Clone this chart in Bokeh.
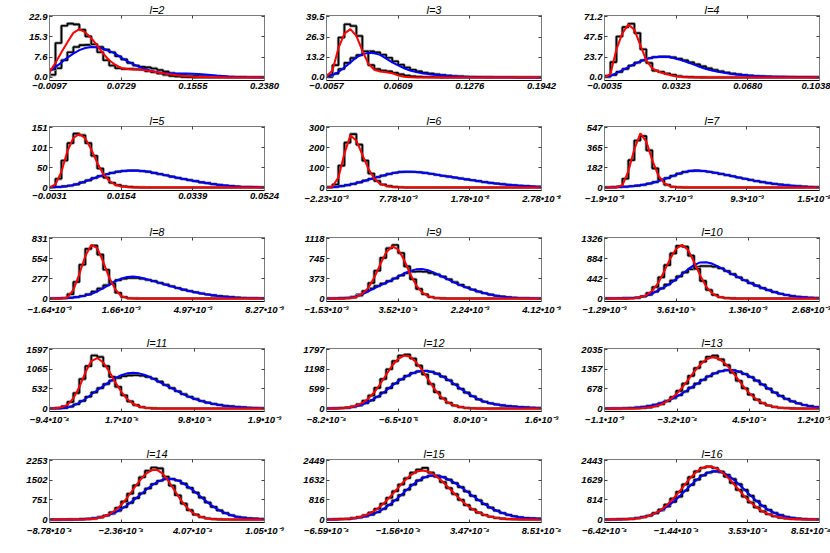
import numpy as np
from bokeh.plotting import figure
from bokeh.layouts import column, row
from bokeh.models import Range1d, FixedTicker, LinearAxis
from bokeh.embed import file_html
from bokeh.resources import INLINE

# ---------------- data ----------------
# each panel: x tick values / labels, y tick values, red curve, blue curve,
# narrow histogram (H1), wide histogram (H2); curves sampled uniformly across the x range,
# histograms have uniform bins across the x range.

XT_2 = [-0.0097, 0.0729, 0.1555, 0.2380]
XL_2 = ["\u22120.0097", "0.0729", "0.1555", "0.2380"]
YT_2 = [0.0, 7.6, 15.3, 22.9]
RED_2 = [2.0, 5.5, 9.5, 13.3, 16.8, 18.2, 17.0, 14.8, 12.0, 9.0, 6.5, 4.8, 3.6, 3.2, 3.0, 2.9, 2.7, 2.35, 2.0, 1.6, 1.25, 0.9, 0.65, 0.45, 0.3, 0.22, 0.16, 0.1, 0.06, 0.04, 0.02, 0, 0, 0, 0, 0, 0]
BLUE_2 = [2.3, 4.0, 5.6, 7.5, 9.0, 10.3, 11.1, 11.45, 11.4, 10.8, 10.0, 9.0, 7.5, 6.2, 5.0, 4.0, 3.2, 2.5, 2.0, 1.7, 1.55, 1.5, 1.5, 1.5, 1.4, 1.3, 1.1, 0.9, 0.7, 0.55, 0.4, 0.3, 0.22, 0.15, 0.12, 0.08, 0.05]
H1_2 = [3, 13, 19.5, 20.3, 20, 18, 15.5, 12.5, 9.5, 6.5, 4.5, 3.5, 3.2, 3.2, 3.1, 3.0, 2.4, 2.0, 1.5, 1.0, 0.6, 0.4, 0.2, 0.1, 0, 0, 0, 0, 0, 0, 0, 0, 0, 0, 0, 0]
H2_2 = [1, 3.5, 6.5, 9.5, 11.5, 12.2, 12.3, 12.2, 11.5, 10.5, 9.5, 8, 6.8, 5.5, 4.5, 4.0, 3.8, 3.4, 2.8, 2.2, 1.6, 1.2, 0.9, 0.7, 0.6, 0.5, 0.4, 0.3, 0.25, 0.2, 0.15, 0.1, 0.1, 0.05, 0, 0]

XT_3 = [-0.0057, 0.0609, 0.1276, 0.1942]
XL_3 = ["\u22120.0057", "0.0609", "0.1276", "0.1942"]
YT_3 = [0.0, 13.2, 26.3, 39.5]
RED_3 = [0.7, 4.5, 19, 28.5, 31.4, 27, 17.5, 9, 5, 3.8, 3.4, 2.8, 1.3, 0.4, 0.15, 0.05, 0, 0, 0, 0, 0, 0, 0, 0, 0, 0, 0, 0, 0, 0, 0, 0, 0, 0, 0, 0, 0]
BLUE_3 = [0.2, 1.5, 3.5, 6.5, 9.8, 13, 15, 16, 15.8, 14.7, 12.2, 9.8, 7.8, 6, 4.5, 3.5, 2.8, 2.2, 1.8, 1.4, 1.1, 0.85, 0.65, 0.5, 0.35, 0.28, 0.22, 0.17, 0.13, 0.1, 0.08, 0.06, 0.05, 0.04, 0.03, 0.02, 0.02]
H1_3 = [1.5, 8, 26, 34.6, 33.5, 27, 17, 8, 5.5, 4.5, 4, 3, 2, 1.2, 0.8, 0.5, 0.3, 0.2, 0.1, 0.05, 0, 0, 0, 0, 0, 0, 0, 0, 0, 0, 0, 0, 0, 0, 0, 0]
H2_3 = [0.3, 2.5, 5.5, 9.5, 12.7, 14.5, 16.5, 17, 16.3, 14.8, 12.8, 10.5, 8.3, 6.5, 5, 4, 3.1, 2.5, 2, 1.5, 1.2, 0.9, 0.7, 0.5, 0.4, 0.3, 0.25, 0.2, 0.15, 0.1, 0.08, 0.06, 0.05, 0.04, 0.03, 0.02]

XT_4 = [-0.0035, 0.0323, 0.0680, 0.1038]
XL_4 = ["\u22120.0035", "0.0323", "0.0680", "0.1038"]
YT_4 = [0.0, 23.7, 47.5, 71.2]
RED_4 = [0.4, 4, 33, 52, 62, 56, 38, 20, 10.5, 7, 4.7, 2.8, 1.2, 0.5, 0.2, 0.05, 0, 0, 0, 0, 0, 0, 0, 0, 0, 0, 0, 0, 0, 0, 0, 0, 0, 0, 0, 0, 0]
BLUE_4 = [0.4, 1.8, 5, 8.5, 12.2, 15.8, 18.8, 21.7, 23.3, 24, 24.2, 23.6, 22, 20, 17.5, 15, 12.3, 10, 8.1, 6.6, 5.4, 4.4, 3.5, 2.8, 2.2, 1.8, 1.5, 1.2, 1.0, 0.85, 0.75, 0.65, 0.55, 0.45, 0.4, 0.35, 0.3]
H1_4 = [2, 18, 48, 59, 63, 52, 33, 17, 8, 6.5, 4.5, 3, 1.5, 0.8, 0.4, 0.2, 0.1, 0, 0, 0, 0, 0, 0, 0, 0, 0, 0, 0, 0, 0, 0, 0, 0, 0, 0, 0]
H2_4 = [0.8, 3, 6.5, 10, 14, 17.5, 20, 22.5, 24, 24.5, 24.5, 23.5, 22, 20, 17.8, 15.5, 13, 10.8, 8.8, 7.2, 5.8, 4.6, 3.6, 2.8, 2.2, 1.7, 1.4, 1.1, 0.9, 0.8, 0.7, 0.6, 0.5, 0.45, 0.4, 0.35]

XT_5 = [-0.0031, 0.0154, 0.0339, 0.0524]
XL_5 = ["\u22120.0031", "0.0154", "0.0339", "0.0524"]
YT_5 = [0, 50, 101, 151]
RED_5 = [0, 8, 40, 92, 125, 135, 124, 96, 62, 34, 17, 7, 2.5, 1, 0.3, 0.1, 0, 0, 0, 0, 0, 0, 0, 0, 0, 0, 0, 0, 0, 0, 0, 0, 0, 0, 0, 0, 0]
BLUE_5 = [0.3, 1, 2, 3.5, 6, 10, 15.5, 21, 26.5, 31, 35, 38.5, 41, 42.5, 43, 42.3, 40.8, 38.5, 35.5, 32.5, 29, 26, 23, 20, 17, 14.5, 12, 9.5, 7.5, 5.8, 4.2, 3.0, 2.2, 1.6, 1.2, 0.9, 0.6]
H1_5 = [1, 22, 68, 112, 136, 132, 112, 80, 48, 25, 12, 6, 3, 1.5, 0.5, 0.2, 0, 0, 0, 0, 0, 0, 0, 0, 0, 0, 0, 0, 0, 0, 0, 0, 0, 0, 0, 0]
H2_5 = [0.6, 1.5, 2.8, 5, 8, 13, 18, 24, 29, 33.5, 37, 40, 42, 43, 43, 41.5, 40, 37, 34, 31, 27.5, 24.5, 21.5, 18.5, 16, 13, 11, 8.5, 6.5, 5, 3.6, 2.6, 1.9, 1.4, 1.0, 0.7]

XT_6 = [-2.23e-3, 7.78e-3, 1.78e-2, 2.78e-2]
XL_6 = ["\u22122.23\u202210\u207b\u00b3", "7.78\u202210\u207b\u00b3", "1.78\u202210\u207b\u00b2", "2.78\u202210\u207b\u00b2"]
YT_6 = [0, 100, 200, 300]
RED_6 = [0, 5, 50, 170, 262, 235, 165, 95, 45, 18, 8, 3, 1, 0.3, 0, 0, 0, 0, 0, 0, 0, 0, 0, 0, 0, 0, 0, 0, 0, 0, 0, 0, 0, 0, 0, 0, 0]
BLUE_6 = [1, 2.5, 5, 9, 15, 22, 30, 39, 48, 56, 64, 71, 76, 79, 79.5, 78, 75, 71, 66.5, 61.5, 57, 52.5, 48, 43, 38.5, 34, 29.5, 25.5, 21.5, 18, 15, 12, 9.5, 7.5, 6, 4.5, 3.5]
H1_6 = [0.5, 15, 110, 225, 268, 215, 135, 70, 33, 15, 7, 3, 1, 0, 0, 0, 0, 0, 0, 0, 0, 0, 0, 0, 0, 0, 0, 0, 0, 0, 0, 0, 0, 0, 0, 0]
H2_6 = [1.5, 3.5, 7, 12, 18, 26, 35, 44, 52, 60, 68, 74, 78, 79, 79, 76.5, 73, 69, 64, 59, 55, 50, 45.5, 41, 36.5, 32, 27.5, 23.5, 20, 16.5, 13.5, 11, 9, 7, 5, 4]

XT_7 = [-1.9e-3, 3.7e-3, 9.3e-3, 1.5e-2]
XL_7 = ["\u22121.9\u202210\u207b\u00b3", "3.7\u202210\u207b\u00b3", "9.3\u202210\u207b\u00b3", "1.5\u202210\u207b\u00b2"]
YT_7 = [0, 182, 365, 547]
RED_7 = [0, 0, 2, 20, 150, 350, 495, 420, 250, 110, 40, 12, 3, 1, 0, 0, 0, 0, 0, 0, 0, 0, 0, 0, 0, 0, 0, 0, 0, 0, 0, 0, 0, 0, 0, 0, 0]
BLUE_7 = [1, 2, 3.5, 6, 9, 14, 20, 30, 42, 58, 76, 95, 118, 136, 149, 155, 153, 148, 140, 130, 120, 109, 97, 86, 75, 63, 54, 45, 37, 30, 24, 19, 14, 10, 7, 5, 3.5]
H1_7 = [0, 0.5, 8, 80, 250, 430, 470, 340, 175, 72, 25, 7, 2, 0.5, 0, 0, 0, 0, 0, 0, 0, 0, 0, 0, 0, 0, 0, 0, 0, 0, 0, 0, 0, 0, 0, 0]
H2_7 = [1.5, 3, 5, 7.5, 11.5, 17, 25, 36, 50, 67, 86, 107, 127, 143, 152, 154, 151, 144, 135, 125, 114, 103, 91, 80, 69, 58, 49, 41, 33, 27, 21, 16, 12, 8.5, 6, 4]

XT_8 = [-1.64e-3, 1.66e-3, 4.97e-3, 8.27e-3]
XL_8 = ["\u22121.64\u202210\u207b\u00b3", "1.66\u202210\u207b\u00b3", "4.97\u202210\u207b\u00b3", "8.27\u202210\u207b\u00b3"]
YT_8 = [0, 277, 554, 831]
RED_8 = [0, 0, 0, 15, 120, 340, 590, 745, 700, 510, 290, 130, 35, 5, 1, 0, 0, 0, 0, 0, 0, 0, 0, 0, 0, 0, 0, 0, 0, 0, 0, 0, 0, 0, 0, 0, 0]
BLUE_8 = [1, 2, 4, 8, 14, 24, 40, 62, 100, 145, 190, 238, 275, 300, 307, 295, 275, 252, 228, 203, 178, 155, 133, 112, 93, 76, 61, 48, 37, 28, 21, 15, 10, 7, 5, 3, 2]
H1_8 = [0, 0, 3, 60, 230, 470, 690, 735, 610, 400, 210, 80, 20, 3, 0.5, 0, 0, 0, 0, 0, 0, 0, 0, 0, 0, 0, 0, 0, 0, 0, 0, 0, 0, 0, 0, 0]
H2_8 = [1.5, 3, 6, 11, 20, 35, 58, 95, 140, 185, 225, 255, 275, 285, 285, 275, 260, 242, 218, 195, 170, 146, 124, 104, 86, 70, 56, 44, 34, 26, 19, 13, 9, 6, 4, 2.5]

XT_9 = [-1.53e-3, 3.52e-4, 2.24e-3, 4.12e-3]
XL_9 = ["\u22121.53\u202210\u207b\u00b3", "3.52\u202210\u207b\u2074", "2.24\u202210\u207b\u00b3", "4.12\u202210\u207b\u00b3"]
YT_9 = [0, 373, 745, 1118]
RED_9 = [0, 0, 0.5, 2, 9, 30, 87, 199, 391, 639, 865, 973, 917, 720, 463, 250, 116, 44, 14, 3.5, 0.7, 0, 0, 0, 0, 0, 0, 0, 0, 0, 0, 0, 0, 0, 0, 0, 0]
BLUE_9 = [1, 2, 4, 6, 17, 40, 80, 135, 190, 245, 295, 350, 410, 468, 515, 545, 550, 530, 485, 430, 375, 320, 268, 222, 180, 145, 112, 84, 60, 42, 28, 18, 11, 7, 4.5, 3, 2]
H1_9 = [0, 0, 1, 5, 18, 55, 140, 290, 520, 760, 940, 1000, 850, 600, 360, 180, 80, 28, 8, 2, 0.5, 0, 0, 0, 0, 0, 0, 0, 0, 0, 0, 0, 0, 0, 0, 0]
H2_9 = [1.5, 3, 6, 12, 30, 75, 130, 185, 235, 280, 325, 375, 430, 475, 500, 505, 500, 480, 450, 410, 360, 305, 255, 210, 168, 130, 98, 72, 52, 36, 24, 15, 9, 6, 4, 2.5]

XT_10 = [-1.29e-3, 3.61e-5, 1.36e-3, 2.68e-3]
XL_10 = ["\u22121.29\u202210\u207b\u00b3", "3.61\u202210\u207b\u2075", "1.36\u202210\u207b\u00b3", "2.68\u202210\u207b\u00b3"]
YT_10 = [0, 442, 884, 1326]
RED_10 = [0, 0, 0, 0.5, 2.5, 8, 26, 72, 171, 346, 600, 884, 1103, 1190, 1076, 808, 518, 270, 118, 43, 12.5, 3.3, 1, 0, 0, 0, 0, 0, 0, 0, 0, 0, 0, 0, 0, 0, 0]
BLUE_10 = [1, 2, 3, 5, 8, 15, 30, 60, 110, 180, 250, 330, 430, 540, 650, 740, 800, 805, 775, 710, 640, 565, 500, 430, 370, 310, 255, 205, 160, 122, 90, 65, 46, 32, 22, 15, 10]
H1_10 = [0, 0, 0, 1, 5, 16, 48, 120, 255, 470, 740, 1000, 1170, 1150, 950, 660, 390, 190, 80, 28, 8, 2, 0.5, 0, 0, 0, 0, 0, 0, 0, 0, 0, 0, 0, 0, 0]
H2_10 = [1.5, 2.5, 4, 6.5, 11, 22, 45, 85, 150, 225, 310, 400, 490, 580, 650, 700, 720, 720, 705, 670, 610, 540, 470, 405, 340, 285, 232, 185, 142, 106, 78, 55, 39, 27, 18, 12]

XT_11 = [-9.4e-4, 1.7e-5, 9.8e-4, 1.9e-3]
XL_11 = ["\u22129.4\u202210\u207b\u2074", "1.7\u202210\u207b\u2075", "9.8\u202210\u207b\u2074", "1.9\u202210\u207b\u00b3"]
YT_11 = [0, 532, 1065, 1597]
RED_11 = [0, 8, 32, 102, 276, 583, 976, 1289, 1370, 1249, 1007, 718, 461, 258, 131, 56, 23, 8, 2.4, 0.6, 0, 0, 0, 0, 0, 0, 0, 0, 0, 0, 0, 0, 0, 0, 0, 0, 0]
BLUE_11 = [2, 4, 8, 25, 80, 155, 260, 380, 495, 610, 725, 825, 905, 955, 970, 955, 910, 840, 760, 670, 590, 505, 420, 345, 280, 225, 178, 140, 110, 85, 65, 48, 36, 26, 18, 13, 9]
H1_11 = [2, 18, 60, 180, 420, 800, 1150, 1440, 1400, 1150, 860, 590, 360, 195, 95, 40, 15, 5, 1.5, 0, 0, 0, 0, 0, 0, 0, 0, 0, 0, 0, 0, 0, 0, 0, 0, 0]
H2_11 = [3, 6, 15, 50, 118, 205, 320, 440, 555, 665, 760, 830, 880, 900, 905, 890, 860, 810, 730, 640, 555, 470, 390, 320, 260, 205, 162, 128, 100, 76, 58, 43, 32, 23, 16, 11]

XT_12 = [-8.2e-4, -6.5e-6, 8.0e-4, 1.6e-3]
XL_12 = ["\u22128.2\u202210\u207b\u2074", "\u22126.5\u202210\u207b\u2076", "8.0\u202210\u207b\u2074", "1.6\u202210\u207b\u00b3"]
YT_12 = [0, 599, 1198, 1797]
RED_12 = [0.9, 2.6, 7.5, 18, 41, 89, 171, 303, 496, 750, 1032, 1313, 1513, 1617, 1581, 1416, 1177, 893, 617, 394, 228, 126, 61, 28, 11, 4.5, 1.6, 0.5, 0.15, 0, 0, 0, 0, 0, 0, 0, 0]
BLUE_12 = [3, 5, 9, 17, 35, 70, 125, 200, 300, 420, 550, 700, 829, 945, 1046, 1116, 1150, 1145, 1101, 1022, 920, 803, 669, 540, 426, 325, 236, 180, 140, 110, 88, 68, 52, 40, 30, 22, 16]
H1_12 = [2, 5, 13, 30, 65, 130, 240, 400, 630, 900, 1200, 1450, 1620, 1650, 1530, 1310, 1040, 750, 500, 310, 175, 92, 44, 19, 8, 3, 1, 0, 0, 0, 0, 0, 0, 0, 0, 0]
H2_12 = [4, 7, 13, 26, 52, 97, 162, 250, 360, 485, 625, 765, 890, 1000, 1085, 1135, 1150, 1125, 1065, 975, 865, 740, 605, 485, 375, 280, 210, 160, 125, 98, 78, 60, 46, 35, 26, 19]

XT_13 = [-1.1e-3, -3.2e-4, 4.5e-4, 1.2e-3]
XL_13 = ["\u22121.1\u202210\u207b\u00b3", "\u22123.2\u202210\u207b\u2074", "4.5\u202210\u207b\u2074", "1.2\u202210\u207b\u00b3"]
YT_13 = [0, 678, 1357, 2035]
RED_13 = [0, 0.1, 0.3, 0.8, 2, 5.5, 13, 27, 56, 107, 192, 321, 494, 723, 989, 1268, 1510, 1692, 1773, 1741, 1598, 1380, 1110, 833, 585, 391, 240, 138, 74, 37, 18, 8, 3.3, 1.3, 0.5, 0.2, 0]
BLUE_13 = [1.9, 3.5, 6.2, 10.7, 18, 30, 48, 72, 109, 158, 224, 306, 404, 520, 654, 791, 927, 1059, 1174, 1261, 1315, 1330, 1305, 1242, 1147, 1032, 897, 756, 618, 491, 381, 285, 207, 145, 100, 66, 42]
H1_13 = [0, 0, 0.5, 1.5, 3.5, 9, 20, 40, 80, 150, 255, 400, 610, 860, 1130, 1400, 1620, 1790, 1830, 1700, 1500, 1240, 960, 700, 480, 310, 185, 105, 55, 27, 12, 5, 2, 1, 0.3, 0]
H2_13 = [2.5, 5, 8.5, 14, 24, 39, 60, 90, 133, 190, 265, 355, 460, 587, 722, 860, 990, 1115, 1218, 1290, 1325, 1320, 1275, 1195, 1090, 965, 830, 690, 555, 440, 335, 248, 178, 123, 83, 54]

XT_14 = [-8.78e-4, -2.36e-4, 4.07e-4, 1.05e-3]
XL_14 = ["\u22128.78\u202210\u207b\u2074", "\u22122.36\u202210\u207b\u2074", "4.07\u202210\u207b\u2074", "1.05\u202210\u207b\u00b3"]
YT_14 = [0, 751, 1502, 2253]
RED_14 = [0, 0, 0.2, 0.5, 1.5, 4, 10, 24, 53, 107, 203, 352, 557, 833, 1149, 1467, 1723, 1884, 1903, 1747, 1446, 1092, 745, 460, 254, 130, 59, 25, 9, 3, 1, 0.3, 0, 0, 0, 0, 0]
BLUE_14 = [0.3, 0.5, 1.6, 3.3, 6.7, 12.8, 24, 42, 72, 119, 185, 277, 394, 548, 725, 912, 1100, 1284, 1433, 1531, 1565, 1537, 1445, 1299, 1127, 939, 743, 563, 407, 288, 196, 125, 76, 50, 35, 27, 20]
H1_14 = [0, 0, 0.3, 1, 3, 7, 17, 38, 80, 155, 275, 450, 690, 990, 1310, 1620, 1870, 1990, 1960, 1640, 1300, 930, 610, 360, 190, 95, 42, 17, 6, 2, 0.6, 0, 0, 0, 0, 0]
H2_14 = [0.4, 1, 2.4, 5, 10, 18, 33, 56, 95, 150, 230, 335, 470, 635, 820, 1005, 1190, 1360, 1485, 1555, 1555, 1495, 1375, 1215, 1035, 840, 655, 485, 350, 245, 165, 108, 72, 50, 35, 25]

XT_15 = [-6.59e-4, -1.56e-4, 3.47e-4, 8.51e-4]
XL_15 = ["\u22126.59\u202210\u207b\u2074", "\u22121.56\u202210\u207b\u2074", "3.47\u202210\u207b\u2074", "8.51\u202210\u207b\u2074"]
YT_15 = [0, 816, 1632, 2449]
RED_15 = [2, 5, 11, 21, 43, 79, 138, 229, 361, 545, 775, 1040, 1324, 1597, 1830, 1985, 2040, 2000, 1873, 1679, 1440, 1188, 934, 702, 505, 355, 235, 148, 90, 52, 29, 15, 8, 4, 2, 1, 0.5]
BLUE_15 = [2.6, 5.3, 11, 20, 35, 61, 103, 163, 248, 364, 518, 698, 906, 1131, 1354, 1556, 1708, 1809, 1837, 1803, 1719, 1598, 1440, 1262, 1075, 894, 718, 561, 426, 314, 229, 159, 108, 71, 55, 45, 38]
H1_15 = [3, 8, 15, 30, 60, 105, 180, 290, 450, 660, 905, 1180, 1460, 1720, 1950, 2080, 2150, 1950, 1780, 1560, 1310, 1060, 820, 600, 425, 290, 190, 118, 70, 40, 22, 11, 6, 3, 1.5, 0.7]
H2_15 = [4, 8, 15, 27, 48, 80, 132, 205, 305, 440, 610, 800, 1020, 1240, 1450, 1630, 1760, 1830, 1830, 1770, 1660, 1520, 1350, 1170, 985, 805, 640, 495, 370, 272, 195, 135, 92, 65, 50, 42]

XT_16 = [-6.42e-4, -1.44e-4, 3.53e-4, 8.51e-4]
XL_16 = ["\u22126.42\u202210\u207b\u2074", "\u22121.44\u202210\u207b\u2074", "3.53\u202210\u207b\u2074", "8.51\u202210\u207b\u2074"]
YT_16 = [0, 814, 1629, 2443]
RED_16 = [0.6, 1.6, 3.8, 8.4, 17.5, 36, 68, 118, 205, 330, 504, 739, 1000, 1307, 1619, 1891, 2093, 2201, 2195, 2089, 1898, 1657, 1372, 1089, 819, 600, 414, 270, 172, 102, 61, 33, 17, 8.6, 4, 1.8, 0.8]
BLUE_16 = [1.8, 3.8, 7.9, 14.5, 27.5, 48, 82, 133, 208, 312, 456, 633, 830, 1073, 1316, 1551, 1756, 1908, 1995, 2001, 1927, 1786, 1583, 1352, 1107, 874, 661, 474, 329, 221, 142, 88, 52, 30, 16, 9, 4.4]
H1_16 = [1, 2.5, 6, 13, 26, 52, 95, 160, 265, 415, 620, 870, 1150, 1460, 1760, 2000, 2150, 2200, 2140, 1990, 1780, 1520, 1230, 950, 710, 505, 340, 220, 135, 80, 47, 25, 13, 6, 3, 1.3]
H2_16 = [2.8, 5.8, 11, 21, 38, 65, 107, 170, 260, 384, 545, 730, 950, 1195, 1435, 1655, 1835, 1950, 2000, 1965, 1860, 1685, 1470, 1230, 990, 767, 568, 400, 275, 182, 115, 70, 41, 23, 12.5, 6.7]

PANELS = [
    (2, XT_2, XL_2, YT_2, RED_2, BLUE_2, H1_2, H2_2),
    (3, XT_3, XL_3, YT_3, RED_3, BLUE_3, H1_3, H2_3),
    (4, XT_4, XL_4, YT_4, RED_4, BLUE_4, H1_4, H2_4),
    (5, XT_5, XL_5, YT_5, RED_5, BLUE_5, H1_5, H2_5),
    (6, XT_6, XL_6, YT_6, RED_6, BLUE_6, H1_6, H2_6),
    (7, XT_7, XL_7, YT_7, RED_7, BLUE_7, H1_7, H2_7),
    (8, XT_8, XL_8, YT_8, RED_8, BLUE_8, H1_8, H2_8),
    (9, XT_9, XL_9, YT_9, RED_9, BLUE_9, H1_9, H2_9),
    (10, XT_10, XL_10, YT_10, RED_10, BLUE_10, H1_10, H2_10),
    (11, XT_11, XL_11, YT_11, RED_11, BLUE_11, H1_11, H2_11),
    (12, XT_12, XL_12, YT_12, RED_12, BLUE_12, H1_12, H2_12),
    (13, XT_13, XL_13, YT_13, RED_13, BLUE_13, H1_13, H2_13),
    (14, XT_14, XL_14, YT_14, RED_14, BLUE_14, H1_14, H2_14),
    (15, XT_15, XL_15, YT_15, RED_15, BLUE_15, H1_15, H2_15),
    (16, XT_16, XL_16, YT_16, RED_16, BLUE_16, H1_16, H2_16),
]

# ---------------- layout / style ----------------
FONT = "'Liberation Sans Narrow', 'Liberation Sans', Arial, sans-serif"
COLW = [287, 278, 265]
COLL = [49, 39, 39]
COLR = [23, 24, 11]
ROWH = [111, 111, 111, 111, 109]
ROWT = [14, 14, 14, 14, 14]
FRAMEH = [66, 65, 65, 64, 64]


def step_xy(lo, hi, counts):
    edges = np.linspace(lo, hi, len(counts) + 1)
    xs = [edges[0]]
    ys = [0.0]
    for i, c in enumerate(counts):
        xs += [edges[i], edges[i + 1]]
        ys += [c, c]
    xs.append(edges[-1])
    ys.append(0.0)
    return xs, ys


def ylab(l, v):
    return f"{v:.1f}" if l <= 4 else f"{v:.0f}"


def style_axis(ax, labelled=True, color="#7a7a7a", width=1):
    ax.axis_line_color = color
    ax.axis_line_width = width
    ax.major_tick_in = 3
    ax.major_tick_out = 0
    ax.major_tick_line_color = "#404040"
    ax.minor_tick_line_color = None
    if labelled:
        ax.major_label_text_font = FONT
        ax.major_label_text_font_style = "bold italic"
        ax.major_label_text_font_size = "9.5px"
        ax.major_label_text_color = "black"
        ax.major_label_standoff = 2
    else:
        ax.major_label_text_font_size = "0px"
        ax.major_label_standoff = 0


def make_panel(idx, spec):
    l, xt, xl, yt, red, blue, h1, h2 = spec
    r, c = divmod(idx, 3)
    lo, hi = xt[0], xt[-1]
    ymax = yt[-1]
    W, H = COLW[c], ROWH[r]
    fh = FRAMEH[r]
    p = figure(width=W, height=H, output_backend="svg", toolbar_location=None,
               x_range=Range1d(lo, hi), y_range=Range1d(-0.05 * ymax, 1.02 * ymax),
               min_border_left=COLL[c], min_border_right=COLR[c],
               min_border_top=ROWT[r], min_border_bottom=H - ROWT[r] - fh)
    p.xgrid.grid_line_color = None
    p.ygrid.grid_line_color = None
    p.outline_line_color = "#7a7a7a"
    p.background_fill_color = "white"
    p.border_fill_color = "white"

    xa = p.xaxis[0]
    xa.ticker = FixedTicker(ticks=xt, minor_ticks=[])
    xa.major_label_overrides = {t: s for t, s in zip(xt, xl)}
    style_axis(xa, True, "black", 1)
    ya = p.yaxis[0]
    ya.ticker = FixedTicker(ticks=yt, minor_ticks=[])
    ya.major_label_overrides = {t: ylab(l, t) for t in yt}
    style_axis(ya, True)

    ra = LinearAxis(ticker=FixedTicker(ticks=yt, minor_ticks=[]),
                    major_label_overrides={t: "" for t in yt})
    style_axis(ra, False)
    p.add_layout(ra, "right")

    # top axis: inward ticks, and the panel title as its axis label
    ta = LinearAxis(ticker=FixedTicker(ticks=xt, minor_ticks=[]),
                    major_label_overrides={t: "" for t in xt},
                    axis_label=f"l={l}")
    style_axis(ta, False)
    ta.axis_label_standoff = 0
    ta.axis_label_text_font = FONT
    ta.axis_label_text_font_style = "italic"
    ta.axis_label_text_font_size = "11px"
    ta.axis_label_text_color = "black"
    p.add_layout(ta, "above")

    for h in (h2, h1):
        xs, ys = step_xy(lo, hi, h)
        p.line(xs, ys, line_color="#9c9c9c", line_width=3.2)
        p.line(xs, ys, line_color="black", line_width=1.6)

    xb = np.linspace(lo, hi, len(blue))
    p.line(xb, blue, line_color="#0000ff", line_width=2)
    xr = np.linspace(lo, hi, len(red))
    p.line(xr, red, line_color="#ff0000", line_width=2)
    return p


figs = [make_panel(i, s) for i, s in enumerate(PANELS)]
rows = [row(*figs[3 * k:3 * k + 3]) for k in range(5)]
layout = column(*rows)

open("out.html", "w").write(file_html(layout, INLINE))
